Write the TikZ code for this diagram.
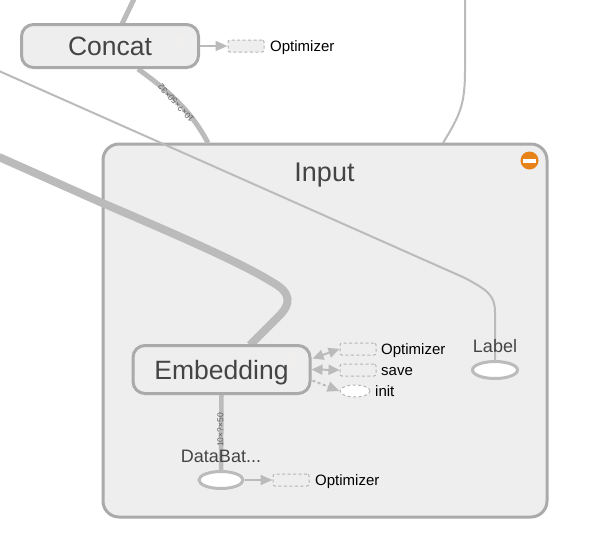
\documentclass[tikz,border=0pt]{standalone}
\usepackage{fontspec}
\setmainfont{Liberation Sans}
\usetikzlibrary{shapes.geometric,arrows.meta,calc}
\definecolor{edgec}{HTML}{BBBBBB}
\definecolor{borderc}{HTML}{AAAAAA}
\definecolor{fillc}{HTML}{EEEEEE}
\definecolor{textc}{HTML}{444444}
\definecolor{dashc}{HTML}{B5B5B5}
\definecolor{minusc}{HTML}{E8831A}
\definecolor{faintc}{HTML}{F0EFED}
\tikzset{
  x=1pt,y=-1pt,
  meta/.style={draw=borderc,fill=fillc,line width=3pt,rounded corners=12pt,inner sep=0pt,text=textc,font=\fontsize{26.5}{30}\selectfont,anchor=center},
  ghost/.style={draw=dashc,fill=#1,line width=1pt,dash pattern=on 3pt off 2.5pt,inner sep=0pt},
  ghostbox/.style={ghost=fillc,rectangle,rounded corners=2pt,minimum width=36pt,minimum height=12pt},
  leaf/.style={ellipse,draw=edgec,fill=white,line width=3pt,inner sep=0pt,minimum width=44pt,minimum height=17pt},
  edge/.style={draw=edgec,line cap=butt},
  aux/.style={edge,line width=2pt,-{Triangle[length=12pt,width=10pt]}},
  auxtwo/.style={edge,line width=2pt,{Triangle[length=11pt,width=10pt]}-{Triangle[length=11pt,width=10pt]}},
  caption/.style={text=black,font=\fontsize{15}{18}\selectfont,anchor=base west,inner sep=0pt},
  title/.style={text=textc,font=\fontsize{18}{21}\selectfont,inner sep=0pt},
  shape label/.style={text=textc!85,font=\fontsize{8.5}{10}\selectfont,inner sep=0pt},
}
\begin{document}
\begin{tikzpicture}
\useasboundingbox (0,0) rectangle (589,536);
\fill[white] (0,0) rectangle (589,536);
% group box
\node[meta,rounded corners=16pt,minimum width=444pt,minimum height=373pt] (input) at (325,330.5) {};
\node[text=textc,font=\fontsize{27}{30}\selectfont,inner sep=0pt] (inputt) at (324.5,175.5) {Input};
% free ends
\coordinate (topa) at (134,-1);
\coordinate (thick) at (-1,157);
\coordinate (thin) at (-1,71);
\coordinate (topb) at (465,-1);
\coordinate (intoa) at (208,143);
\coordinate (intob) at (443,143);
\coordinate (intoe) at (250,345);
% edges behind the nodes
\draw[edge,line width=5pt] (122,24) -- (topa);
\draw[edge,line width=5pt] (138,69) .. controls (170,92) and (192,112) .. (intoa);
\draw[edge,line width=8pt] (thick) -- (100,202) .. controls (170,232) and (240,262) .. (272,282) .. controls (292,293) and (291,304) .. (279,316) -- (intoe);
\draw[edge,line width=2pt] (topb) -- (465,70) .. controls (465,105) and (460,115) .. (intob);
% nodes
\node[meta,minimum width=177pt,minimum height=43pt,text depth=0pt] (concat) at (110,46) {};
\node[meta,minimum width=177pt,minimum height=48pt] (emb) at (221.5,369.5) {};
\node[text=textc,font=\fontsize{26.5}{30}\selectfont,inner sep=0pt,anchor=base] at (110,55) {Concat};
\node[text=textc,font=\fontsize{26.5}{30}\selectfont,inner sep=0pt,anchor=base] at (221.5,379) {Embedding};
\draw[edge,line width=2pt] (thin) -- (465,278) .. controls (487,290) and (495,295) .. (495,312) -- (495,362);
\draw[edge,line width=4.5pt] (emb.south) -- (221,472);
\node[leaf,minimum width=45pt] (label) at (495,370) {};
\node[leaf] (batch) at (221,480) {};
\node[ghostbox] (o1) at (246,46) {};
\node[ghostbox] (o2) at (358,349) {};
\node[ghostbox] (o3) at (358,370) {};
\node[ellipse,ghost=white,minimum width=30pt,minimum height=12pt] (o4) at (355,391) {};
\node[ghostbox] (o5) at (291,480) {};
% faint expand icons
\fill[faintc] (180,42) circle (7);
\fill[faintc] (293,360) circle (7);
\coordinate (e1) at ($(emb.east)+(1,-11)$);
\coordinate (e3) at ($(emb.east)+(1,11)$);
\draw[auxtwo] (e1) -- (o2.west);
\draw[auxtwo] (emb.east) -- (o3.west);
\draw[aux,dash pattern=on 3pt off 2.5pt] (e3) -- (o4.west);
\draw[aux] (concat.east) -- (o1.west);
\draw[aux] (batch.east) -- (o5.west);
% text
\node[shape label,rotate=133] (s1) at (176,103) {10×?×50×32};
\node[shape label,rotate=90] (s2) at (220.5,430) {10×?×50};
\node[title] (t1) at (495,346) {Label};
\node[title] (t2) at (221,456) {DataBat...};
\node[caption] (c1) at (270,51) {Optimizer};
\node[caption] (c2) at (381,354) {Optimizer};
\node[caption] (c3) at (381,375) {save};
\node[caption] (c4) at (375,396) {init};
\node[caption] (c5) at (315,485) {Optimizer};
% collapse button
\fill[minusc] (529.5,160.5) circle (9);
\fill[white] (523,159) rectangle (536,163);
\end{tikzpicture}
\end{document}
